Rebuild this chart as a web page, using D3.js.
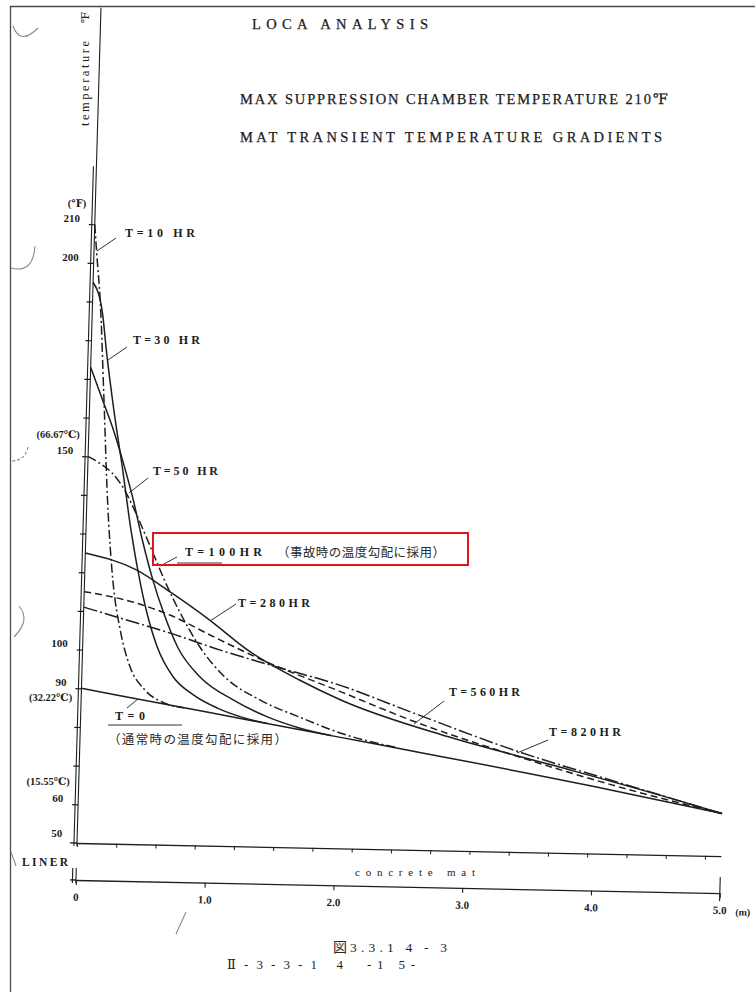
<!DOCTYPE html>
<html><head><meta charset="utf-8">
<script src="https://cdn.jsdelivr.net/npm/d3@7"></script>
<style>
body{margin:0;background:#fff}
svg{display:block}
.lat{font-family:"Liberation Serif","DejaVu Serif",serif;fill:#1c1c1c}
.cjk{font-family:"Noto Sans CJK JP",sans-serif;fill:#2a2a2a}
</style>
</head><body>
<svg id="c" width="755" height="992"></svg>
<script>
// ---------------- DATA ----------------
// depth into the concrete mat (m) / temperature (°F)
const depthTicks = [0, 1, 2, 3, 4, 5];
const depthTickLabels = ["0", "1.0", "2.0", "3.0", "4.0", "5.0"];
const footTicks = d3.range(0, 17).map(i => i * 0.3048);
const tempTicks = [60, 70, 80, 90, 100, 110, 120, 130, 140, 150, 160, 170, 180, 190, 200, 210];
const tempLabels = [210, 200, 150, 100, 90, 60, 50];
const celsiusAt = [150, 90, 60];
const celsiusText = ["(66.67℃)", "(32.22℃)", "(15.55℃)"];

const T0_HR   = [[0,90],[0.5,87.2],[1,84.4],[1.5,81.6],[2,78.8],[2.5,76.0],[3,73.2],[3.5,70.3],[4,67.3],[4.5,64.2],[5,61]];
const T10_HR  = [[0,210],[0.02,203],[0.06,190],[0.11,165],[0.16,139],[0.22,118],[0.29,105],[0.37,96],[0.49,90],[0.65,86.6],[0.8,85.5]];
const T30_HR  = [[0,195],[0.08,187],[0.12,177],[0.19,162],[0.27,147],[0.35,131],[0.43,118],[0.49,110],[0.58,101],[0.71,93.4],[0.87,88.9],[1.06,85.6],[1.25,83.4],[1.45,81.9]];
const T50_HR  = [[0,173],[0.10,164.6],[0.19,157],[0.27,149],[0.36,139],[0.44,128.6],[0.53,118.4],[0.62,110],[0.74,101],[0.92,93.5],[1.18,87.8],[1.45,83.6],[1.7,80.9],[1.95,79.1]];
const T100_HR = [[0,150],[0.09,148.3],[0.19,145.8],[0.29,141.5],[0.38,135.8],[0.47,129.4],[0.56,122.8],[0.62,118.4],[0.75,110],[0.91,101.3],[1.11,93.7],[1.39,87.9],[1.70,83.7],[2.05,79.5],[2.45,76.4]];
const T280_HR = [[0,125],[0.40,120.9],[0.67,115.3],[0.98,108.3],[1.28,100.8],[1.69,93.3],[2.02,88.3],[2.86,79.4],[3.70,72.4],[4.54,65.2],[5,61]];
const T560_HR = [[0,115],[0.41,112.3],[0.67,109.4],[0.99,104.4],[1.36,98.8],[2.02,90.4],[2.58,83.3],[3.39,74.8],[4.20,67.3],[5,61]];
const T820_HR = [[0,111],[0.28,108.4],[0.67,104.8],[1.07,100.6],[1.46,97],[2.02,92],[2.58,85.4],[3.39,76.1],[4.2,68.4],[5,61]];

const seriesNames = ["T=0","T=10 HR","T=30 HR","T=50 HR","T=100HR","T=280HR","T=560HR","T=820HR"];
const seriesData  = [T0_HR, T10_HR, T30_HR, T50_HR, T100_HR, T280_HR, T560_HR, T820_HR];
const seriesStyle = ["solid","dashdot","solid","solid","dashdot","solid","dashed","longdashdot"];

// ---------------- LAYOUT ----------------
const svg = d3.select("#c");
const dashes = {solid:null, dashdot:"9,3,2,3", dashed:"7,4", longdashdot:"14,3,2,3"};
// slight skew of the scanned drawing
const M = {a:0.99979, b:0.0204, c:-0.0287, d:0.99959, e:77, f:843};
const toScreen = (xl, yl) => [M.a*xl + M.c*yl + M.e, M.b*xl + M.d*yl + M.f];

const xS = d3.scaleLinear().domain([0, 5]).range([0, 644]);
const yS = d3.scaleLinear().domain([50, 210]).range([0, -619]);

// page border
svg.append("path").attr("d","M10.5,992 V6.5 H755").attr("fill","none").attr("stroke","#4a4a4a").attr("stroke-width",1.3);
// scan artefacts (punch-hole shadows)
const arcs = ["M13,26 Q20,46 38,28","M35,246 Q33,274 11,268","M28,447 Q25,461 11,461","M19,606 Q31,620 14,637","M11,852 L16,866","M186,912 L176,934"];
arcs.forEach((d,i)=>svg.append("path").attr("d",d).attr("fill","none").attr("stroke","#8a8a8a")
  .attr("stroke-width",1.1).attr("stroke-dasharray", i===2 ? "3,2" : null));

const g = svg.append("g").attr("transform", `matrix(${M.a},${M.b},${M.c},${M.d},${M.e},${M.f})`);
const ink = "#1e1e1e";

// vertical axis (double line = liner)
g.append("line").attr("x1",0).attr("x2",0).attr("y1",3).attr("y2",yS(266)).attr("stroke",ink).attr("stroke-width",1.1);
g.append("line").attr("x1",-3).attr("x2",-3).attr("y1",3).attr("y2",yS(225)).attr("stroke",ink).attr("stroke-width",1.1);
const yAx = g.append("g").call(d3.axisLeft(yS).tickValues(tempTicks).tickSize(6).tickSizeOuter(0).tickFormat(""));
yAx.select(".domain").remove();
yAx.selectAll("line").attr("stroke",ink).attr("stroke-width",1.2);

// upper horizontal axis (feet marks)
const xAx = g.append("g").call(d3.axisBottom(xS).tickValues(footTicks).tickSize(4).tickSizeOuter(0).tickFormat(""));
xAx.select(".domain").attr("stroke",ink).attr("stroke-width",1.3);
xAx.selectAll("line").attr("stroke",ink).attr("stroke-width",1);
g.append("line").attr("x1",-7).attr("x2",0).attr("y1",0).attr("y2",0).attr("stroke",ink).attr("stroke-width",1.3);

// lower axis (concrete mat, metres)
const lowY = 37;
const xAx2 = g.append("g").attr("transform",`translate(0,${lowY})`)
  .call(d3.axisBottom(xS).tickValues(depthTicks).tickSize(5).tickPadding(8).tickSizeOuter(0)
  .tickFormat((d,i)=>depthTickLabels[i]));
xAx2.select(".domain").attr("stroke",ink).attr("stroke-width",1.3);
xAx2.selectAll("line").attr("stroke",ink).attr("stroke-width",1.1);
xAx2.selectAll("text").attr("class","lat").attr("font-size",11).attr("font-weight","bold").attr("fill","#333");
g.append("line").attr("x1",-6).attr("x2",0).attr("y1",lowY).attr("y2",lowY).attr("stroke",ink).attr("stroke-width",1.3);
g.append("line").attr("x1",xS(5)).attr("x2",xS(5)).attr("y1",lowY-16).attr("y2",lowY+8).attr("stroke",ink).attr("stroke-width",1.1);
[-3.5, 0].forEach(x0 => g.append("line").attr("x1",x0).attr("x2",x0).attr("y1",lowY-12).attr("y2",lowY+3)
  .attr("stroke",ink).attr("stroke-width",1.1));
g.append("text").attr("class","lat").attr("x",xS(5)+16).attr("y",lowY+22).attr("font-size",10)
  .attr("font-weight","bold").attr("fill","#333").text("(m)");

// curves
const line = d3.line().x(d=>xS(d[0])).y(d=>yS(d[1])).curve(d3.curveMonotoneX);
seriesData.forEach((data,i)=>{
  g.append("path").datum(data).attr("d",line).attr("fill","none").attr("stroke",ink)
   .attr("stroke-width",1.5).attr("stroke-dasharray",dashes[seriesStyle[i]]);
});

// y tick labels (horizontal text)
const ylab = svg.append("g").attr("class","lat").attr("font-size",11).attr("font-weight","bold").attr("fill","#2a2a2a");
tempLabels.forEach(t=>{
  const [sx,sy] = toScreen(-15, yS(t) + (t===50 ? -10 : -6));
  ylab.append("text").attr("x",sx).attr("y",sy).attr("text-anchor","end").attr("dominant-baseline","central").text(t);
});
const cSide = {150:-16, 90:15, 60:-17};
celsiusAt.forEach((t,i)=>{
  const [sx,sy] = toScreen(-9, yS(t) - 6 + cSide[t]);
  ylab.append("text").attr("x",sx).attr("y",sy).attr("text-anchor","end").attr("dominant-baseline","central")
    .attr("font-size",10.5).text(celsiusText[i]);
});
{
  const [sx,sy] = toScreen(-9, yS(210) - 6 - 15);
  ylab.append("text").attr("x",sx).attr("y",sy).attr("text-anchor","end").attr("dominant-baseline","central")
    .attr("font-size",10.5).text("(℉)");
}

// y axis title
svg.append("text").attr("class","lat").attr("transform","translate(89,126) rotate(-90)")
  .attr("font-size",12.5).attr("textLength",85).attr("lengthAdjust","spacing").text("temperature");
svg.append("text").attr("class","lat").attr("transform","translate(89,23) rotate(-90)")
  .attr("font-size",11).text("℉");

// titles
const title = (txt,x,y,w,fs)=>svg.append("text").attr("class","lat").attr("x",x).attr("y",y)
  .attr("font-size",fs).attr("textLength",w).attr("lengthAdjust","spacing")
  .attr("stroke","#1c1c1c").attr("stroke-width",0.25).text(txt);
title("LOCA ANALYSIS",252,29,176,14.5);
title("MAX SUPPRESSION CHAMBER TEMPERATURE 210℉",240,104,428,14.5);
title("MAT TRANSIENT TEMPERATURE GRADIENTS",240,142,422,14.5);

// curve labels with leader lines (screen positions)
const labelLayout = {
  "T=10 HR": {x:125,y:237,w:70, p:[[116,238],[97,251]]},
  "T=30 HR": {x:133,y:344,w:67, p:[[127,347],[108,360]]},
  "T=50 HR": {x:153,y:475,w:65, p:[[148,478],[129,493]]},
  "T=100HR": {x:185,y:556,w:77, p:[[177,557],[160,566]]},
  "T=280HR": {x:238,y:607,w:72, p:[[236,604],[210,621]]},
  "T=560HR": {x:449,y:696,w:71, p:[[444,701],[414,724]]},
  "T=820HR": {x:549,y:736,w:72, p:[[548,740],[517,753]]},
  "T=0":     {x:115,y:720,w:30, p:[[127,708],[138,699]]}
};
const lab = svg.append("g");
seriesNames.forEach(n=>{
  const L = labelLayout[n];
  lab.append("text").attr("class","lat").attr("x",L.x).attr("y",L.y).attr("font-size",12)
    .attr("font-weight","bold").attr("textLength",L.w).attr("lengthAdjust","spacing").text(n);
  lab.append("path").attr("d",d3.line()(L.p)).attr("stroke","#333").attr("stroke-width",1).attr("fill","none");
});
lab.append("line").attr("x1",177).attr("x2",222).attr("y1",563).attr("y2",563).attr("stroke","#333").attr("stroke-width",1.2);
lab.append("text").attr("class","cjk").attr("x",277).attr("y",557).attr("font-size",12.5)
  .attr("textLength",168).attr("lengthAdjust","spacing").text("（事故時の温度勾配に採用）");
lab.append("line").attr("x1",108).attr("x2",182).attr("y1",725).attr("y2",725).attr("stroke","#333").attr("stroke-width",1);
lab.append("text").attr("class","cjk").attr("x",108).attr("y",744).attr("font-size",12.5)
  .attr("textLength",179).attr("lengthAdjust","spacing").text("（通常時の温度勾配に採用）");

// highlight box
svg.append("rect").attr("x",153).attr("y",533).attr("width",315).attr("height",32)
  .attr("fill","none").attr("stroke","#e3141b").attr("stroke-width",2);

// bottom labels
svg.append("text").attr("class","lat").attr("x",22).attr("y",866).attr("font-size",11.5).attr("font-weight","bold")
  .attr("textLength",46).attr("lengthAdjust","spacing").text("LINER");
svg.append("text").attr("class","lat").attr("x",355).attr("y",876).attr("font-size",11)
  .attr("textLength",120).attr("lengthAdjust","spacing").text("concrete mat");

// caption
svg.append("text").attr("class","cjk").attr("x",333).attr("y",952).attr("font-size",14).text("図");
svg.append("text").attr("class","lat").attr("x",350).attr("y",952).attr("font-size",13.5)
  .attr("textLength",97).attr("lengthAdjust","spacing").text("3.3.1 4 - 3");
svg.append("text").attr("class","lat").attr("x",227).attr("y",969).attr("font-size",13)
  .attr("textLength",116).attr("lengthAdjust","spacing").text("Ⅱ-3-3-1 4");
svg.append("text").attr("class","lat").attr("x",367).attr("y",969).attr("font-size",13)
  .attr("textLength",48).attr("lengthAdjust","spacing").text("-1 5-");
</script>
</body></html>
